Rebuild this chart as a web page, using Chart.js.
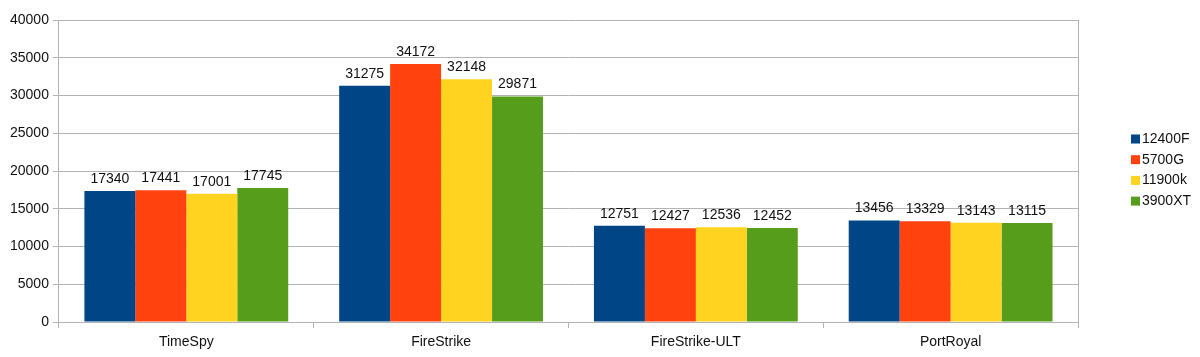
<!DOCTYPE html>
<html><head><meta charset="utf-8">
<script src="https://cdn.jsdelivr.net/npm/chart.js@4/dist/chart.umd.min.js"></script>
<style>html,body{margin:0;padding:0;background:#fff}#wrap{width:1200px;height:357px}</style>
</head><body><div id="wrap"><canvas id="c" width="1200" height="357"></canvas></div>
<script>
const categories = ["TimeSpy", "FireStrike", "FireStrike-ULT", "PortRoyal"];
const seriesNames = ["12400F", "5700G", "11900k", "3900XT"];
const s12400F = [17340, 31275, 12751, 13456];
const s5700G = [17441, 34172, 12427, 13329];
const s11900k = [17001, 32148, 12536, 13143];
const s3900XT = [17745, 29871, 12452, 13115];
const colors = ["#004586", "#ff420e", "#ffd320", "#579d1c"];
const yMax = 40000, yStep = 5000;

const FONT = "Liberation Sans, Arial, sans-serif";
const seriesValues = [s12400F, s5700G, s11900k, s3900XT];

const labelPlugin = {
  id: 'vals',
  afterDatasetsDraw(chart) {
    const ctx = chart.ctx;
    ctx.save();
    ctx.font = "14px " + FONT;
    ctx.fillStyle = "#111";
    ctx.textAlign = "center";
    ctx.textBaseline = "bottom";
    chart.data.datasets.forEach((ds, i) => {
      chart.getDatasetMeta(i).data.forEach((bar, j) => {
        ctx.fillText(String(ds.data[j]), bar.x, bar.y - 5);
      });
    });
    ctx.restore();
  }
};

const frameAndLegend = {
  id: 'customLegend',
  afterDraw(chart) {
    const ctx = chart.ctx;
    const a = chart.chartArea;
    ctx.save();
    ctx.strokeStyle = "#b3b3b3";
    ctx.lineWidth = 1;
    ctx.beginPath();
    ctx.moveTo(Math.round(a.right) + 0.5, a.top);
    ctx.lineTo(Math.round(a.right) + 0.5, a.bottom);
    ctx.stroke();
    ctx.font = "14px " + FONT;
    ctx.textBaseline = "middle";
    ctx.textAlign = "left";
    const x0 = 1131, y0 = 139, dy = 20.7;
    seriesNames.forEach((n, i) => {
      const y = y0 + i * dy;
      ctx.fillStyle = colors[i];
      ctx.fillRect(x0, y - 4.5, 9, 9);
      ctx.fillStyle = "#111";
      ctx.fillText(n, x0 + 11, y);
    });
    ctx.restore();
  }
};

new Chart(document.getElementById('c'), {
  type: 'bar',
  data: {
    labels: categories,
    datasets: seriesNames.map((n, i) => ({
      label: n, data: seriesValues[i], backgroundColor: colors[i], borderWidth: 0
    }))
  },
  options: {
    responsive: false, animation: false,
    devicePixelRatio: 1,
    layout: { padding: { left: 6, right: 122, top: 20, bottom: 1 } },
    plugins: { legend: { display: false }, tooltip: { enabled: false } },
    datasets: { bar: { categoryPercentage: 0.8, barPercentage: 1.0 } },
    scales: {
      x: {
        grid: { display: true, drawOnChartArea: false, drawTicks: true, tickLength: 6, color: "#b3b3b3", offset: true },
        border: { display: false },
        ticks: { font: { family: FONT, size: 14, lineHeight: 1 }, color: "#111", padding: 7 }
      },
      y: {
        min: 0, max: yMax,
        grid: { color: "#b3b3b3", drawTicks: true, tickLength: 6 },
        border: { display: true, color: "#b3b3b3" },
        ticks: { stepSize: yStep, font: { family: FONT, size: 14 }, color: "#111", padding: 4,
                 callback: v => String(v) }
      }
    }
  },
  plugins: [labelPlugin, frameAndLegend]
});
</script></body></html>
